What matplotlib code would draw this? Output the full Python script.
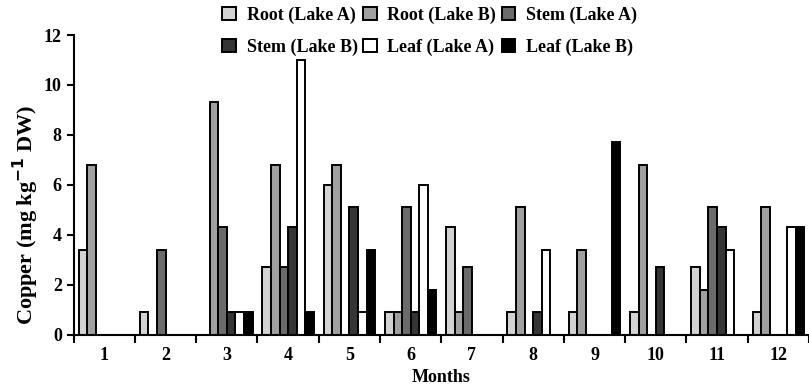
import numpy as np
import matplotlib
matplotlib.use('Agg')
import matplotlib.pyplot as plt
from matplotlib.patches import Patch

plt.rcParams['font.family'] = ['Liberation Serif', 'DejaVu Serif']
plt.rcParams['font.weight'] = 'bold'
plt.rcParams['axes.labelweight'] = 'bold'
plt.rcParams['mathtext.default'] = 'bf'

months = ['1', '2', '3', '4', '5', '6', '7', '8', '9', '10', '11', '12']
series = ['Root (Lake A)', 'Root (Lake B)', 'Stem (Lake A)',
          'Stem (Lake B)', 'Leaf (Lake A)', 'Leaf (Lake B)']

root_a = [3.4, 0.9, 0.0, 2.7, 6.0, 0.9, 4.3, 0.9, 0.9, 0.9, 2.7, 0.9]
root_b = [6.8, 0.0, 9.3, 6.8, 6.8, 0.9, 0.9, 5.1, 3.4, 6.8, 1.8, 5.1]
stem_a = [0.0, 3.4, 4.3, 2.7, 0.0, 5.1, 2.7, 0.0, 0.0, 0.0, 5.1, 0.0]
stem_b = [0.0, 0.0, 0.9, 4.3, 5.1, 0.9, 0.0, 0.9, 0.0, 2.7, 4.3, 0.0]
leaf_a = [0.0, 0.0, 0.9, 11.0, 0.9, 6.0, 0.0, 3.4, 0.0, 0.0, 3.4, 4.3]
leaf_b = [0.0, 0.0, 0.9, 0.9, 3.4, 1.8, 0.0, 0.0, 7.7, 0.0, 0.0, 4.3]

data = [root_a, root_b, stem_a, stem_b, leaf_a, leaf_b]
colors = ['#d2d2d2', '#a0a0a0', '#6b6b6b', '#353535', '#ffffff', '#000000']

fig = plt.figure(figsize=(8.09, 3.89), dpi=100)
ax = fig.add_axes([0.091, 0.139, 0.909, 0.771])

x = np.arange(1, len(months) + 1)
w = 0.14
for i, (vals, c) in enumerate(zip(data, colors)):
    ax.bar(x + (i - 2.5) * w, vals, width=w, color=c, edgecolor='black',
           linewidth=1.4, label=series[i])

ax.set_xlim(0.5, 12.5)
ax.set_ylim(0, 12)
ax.set_yticks(range(0, 13, 2))
ax.set_xticks(np.arange(0.5, 13.0, 1.0))
ax.set_xticklabels([])
ax.set_xticks(x, minor=True)
ax.set_xticklabels(months, minor=True)
ax.tick_params(axis='x', which='major', direction='out', length=6, width=1.5)
ax.tick_params(axis='x', which='minor', length=0, pad=9, labelsize=13)
ax.tick_params(axis='y', direction='out', length=5, width=1.5, labelsize=13)

for s in ['top', 'right']:
    ax.spines[s].set_visible(False)
for s in ['left', 'bottom']:
    ax.spines[s].set_linewidth(1.5)

ax.set_xlabel('Months', fontsize=13, labelpad=3)
ax.set_ylabel('Copper (mg kg$^{-1}$ DW)', fontsize=16)
ax.yaxis.set_label_coords(-0.045, 0.40)

handles = [Patch(facecolor=c, edgecolor='black', linewidth=1.4) for c in colors]
order = [0, 3, 1, 4, 2, 5]
fig.legend([handles[i] for i in order], [series[i] for i in order],
           loc='upper center', bbox_to_anchor=(0.531, 1.025), ncol=3,
           frameon=False, fontsize=13, handlelength=0.75, handleheight=0.75,
           handletextpad=0.6, columnspacing=0.3, labelspacing=0.8)

plt.savefig('out.png', dpi=100)
